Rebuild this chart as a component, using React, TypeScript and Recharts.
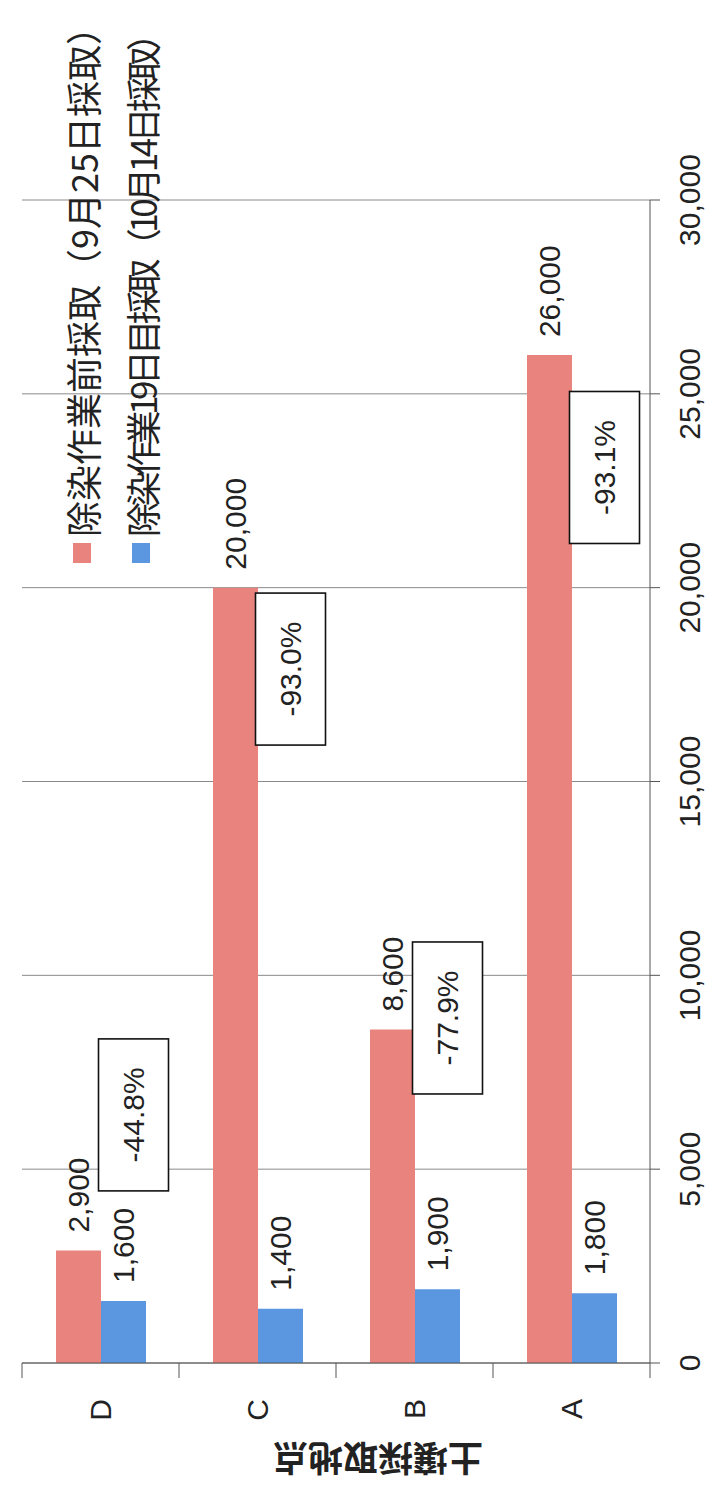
import React from 'react';
import {
    BarChart,
    Bar,
    XAxis,
    YAxis,
    CartesianGrid,
    LabelList,
    ReferenceDot,
    Label
} from 'recharts';

const sites = ['D', 'C', 'B', 'A'];
const beforeValues = [2900, 20000, 8600, 26000];
const afterValues = [1600, 1400, 1900, 1800];
const seriesNames = ['除染作業前採取（9月25日採取）', '除染作業19日目採取（10月14日採取）'];
const seriesColors = ['#E9837E', '#5B97E1'];
const valueTicks = [0, 5000, 10000, 15000, 20000, 25000, 30000];
const axisTitle = '土壌採取地点';
// change boxes: centre along the value axis
const noteAt = [6400, 17900, 8900, 23100];

const minorTicks = Array.from({ length: 31 }, (_, i) => i * 1000);

// chart is drawn upright, then the whole sheet is turned a quarter to the left
const W = 1486;
const H = 705;
const TOP = 22;
const XAXIS_H = 55;
const CAT_MARGIN = 36;
const band = (H - TOP - XAXIS_H) / sites.length;

const num = '"Liberation Sans", Arial, sans-serif';
const jp = '"Noto Sans CJK JP", sans-serif';

const fmt = (v: number) => v.toLocaleString('en-US');

// category label plus the boundary ticks between categories
const SiteTick = (props: any) => {
    const { x, y, payload, index } = props;
    const half = payload && payload.offset ? payload.offset : band / 2;
    const ax = x + CAT_MARGIN;
    return (
        <g>
            <line x1={ax} y1={y - half} x2={ax - 15} y2={y - half} stroke="#555" />
            {index === sites.length - 1 && (
                <line x1={ax} y1={y + half} x2={ax - 15} y2={y + half} stroke="#555" />
            )}
            <text
                x={x}
                y={y}
                textAnchor="end"
                dominantBaseline="central"
                fontFamily={num}
                fontSize={30}
                fill="#222"
            >
                {payload.value}
            </text>
        </g>
    );
};

export default function App() {
    const data = sites.map((site, i) => ({
        site,
        before: beforeValues[i],
        after: afterValues[i],
        change: (((afterValues[i] - beforeValues[i]) / beforeValues[i]) * 100).toFixed(1) + '%'
    }));

    const renderTitle = (props: any) => {
        const vb = props.viewBox;
        const x = vb.x + 26;
        const y = vb.y + vb.height / 2 + 42;
        return (
            <text
                x={x}
                y={y}
                transform={`rotate(-90 ${x} ${y})`}
                textAnchor="middle"
                dominantBaseline="central"
                fontFamily={jp}
                fontSize={35}
                fontWeight="bold"
                fill="#222"
            >
                {axisTitle}
            </text>
        );
    };

    const noteBox = (text: string) => (props: any) => {
        const { cx } = props;
        const cy = props.cy + 33;
        return (
            <g>
                <rect x={cx - 76} y={cy - 35} width={152} height={70} fill="#fff" stroke="#111" strokeWidth={1.6} />
                <text
                    x={cx}
                    y={cy}
                    textAnchor="middle"
                    dominantBaseline="central"
                    fontFamily={num}
                    fontSize={30}
                    fill="#222"
                >
                    {text}
                </text>
            </g>
        );
    };

    return (
        <div style={{ position: 'absolute', left: 0, top: 0, width: H, height: W, overflow: 'hidden', background: '#fff' }}>
            <div
                style={{
                    position: 'absolute',
                    left: 0,
                    top: 0,
                    width: W,
                    height: H,
                    transformOrigin: '0 0',
                    transform: `translate(0px, ${W}px) rotate(-90deg)`
                }}
            >
                <BarChart
                    width={W}
                    height={H}
                    data={data}
                    layout="vertical"
                    margin={{ top: TOP, right: 200, bottom: 0, left: 0 }}
                    barGap={0}
                    style={{ position: 'absolute', left: 0, top: 0 }}
                >
                    <XAxis
                        xAxisId="minor"
                        type="number"
                        domain={[0, 30000]}
                        ticks={minorTicks}
                        height={0}
                        mirror
                        tick={false}
                        axisLine={false}
                        tickSize={8}
                        tickLine={{ stroke: '#666' }}
                    />
                    <XAxis
                        xAxisId="main"
                        type="number"
                        domain={[0, 30000]}
                        ticks={valueTicks}
                        interval={0}
                        height={XAXIS_H}
                        tickFormatter={fmt}
                        tickSize={10}
                        tickMargin={19}
                        axisLine={{ stroke: '#555' }}
                        tickLine={{ stroke: '#555' }}
                        tick={{ fill: '#222', fontSize: 30, fontFamily: num }}
                    />
                    <YAxis
                        yAxisId="cat"
                        type="category"
                        dataKey="site"
                        width={123}
                        tickSize={0}
                        tickMargin={CAT_MARGIN}
                        axisLine={{ stroke: '#555' }}
                        tickLine={false}
                        tick={<SiteTick />}
                        interval={0}
                    >
                        <Label content={renderTitle} />
                    </YAxis>
                    <CartesianGrid xAxisId="main" yAxisId="cat" horizontal={false} stroke="#8a8a8a" />
                    <Bar
                        dataKey="before"
                        name={seriesNames[0]}
                        xAxisId="main"
                        yAxisId="cat"
                        fill={seriesColors[0]}
                        barSize={45}
                        isAnimationActive={false}
                    >
                        <LabelList
                            dataKey="before"
                            position="right"
                            offset={18}
                            formatter={(v: any) => fmt(Number(v))}
                            style={{ fill: '#222', fontSize: 30, fontFamily: num }}
                        />
                    </Bar>
                    <Bar
                        dataKey="after"
                        name={seriesNames[1]}
                        xAxisId="main"
                        yAxisId="cat"
                        fill={seriesColors[1]}
                        barSize={45}
                        isAnimationActive={false}
                    >
                        <LabelList
                            dataKey="after"
                            position="right"
                            offset={18}
                            formatter={(v: any) => fmt(Number(v))}
                            style={{ fill: '#222', fontSize: 30, fontFamily: num }}
                        />
                    </Bar>
                    {data.map((d, i) => (
                        <ReferenceDot
                            key={d.site}
                            xAxisId="main"
                            yAxisId="cat"
                            x={noteAt[i]}
                            y={d.site}
                            r={0}
                            ifOverflow="visible"
                            shape={noteBox(d.change)}
                        />
                    ))}
                </BarChart>

                <div style={{ position: 'absolute', left: 923, top: 60, fontFamily: jp, color: '#222' }}>
                    {seriesNames.map((name, i) => (
                        <div
                            key={name}
                            style={{ display: 'flex', alignItems: 'center', height: 44, marginBottom: i === 0 ? 15 : 0 }}
                        >
                            <div style={{ width: 20, height: 18, background: seriesColors[i], marginRight: 6, flex: 'none' }} />
                            <span
                                style={{
                                    fontSize: i === 0 ? 36 : 35,
                                    lineHeight: 1,
                                    whiteSpace: 'nowrap',
                                    letterSpacing: i === 0 ? 0 : -4.5
                                }}
                            >
                                {name}
                            </span>
                        </div>
                    ))}
                </div>
            </div>
        </div>
    );
}
